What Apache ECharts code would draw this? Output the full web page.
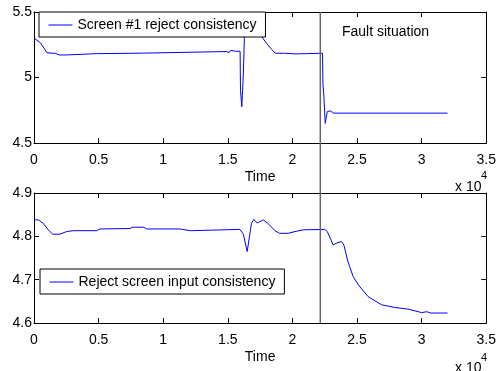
<!DOCTYPE html>
<html>
<head>
<meta charset="utf-8">
<script src="https://cdn.jsdelivr.net/npm/echarts@6/dist/echarts.min.js"></script>
<style>
  html, body { margin: 0; padding: 0; background: #fff; }
  #chart { width: 499px; height: 371px; }
</style>
</head>
<body>
<div id="chart"></div>
<script>
// time axis (shared), shown in units of 1e4
const timeTicks = [0, 5000, 10000, 15000, 20000, 25000, 30000, 35000];
const faultTime = 22120;

// upper plot: Screen #1 reject consistency
const topName = "Screen #1 reject consistency";
const topTicks = [4.5, 5, 5.5];
const topTime = [0, 500, 1000, 1400, 1650, 1750, 1950, 2500, 2550, 4850, 8400, 8500,
  14900, 15000, 15100, 15200, 15300, 15400, 15500, 15600, 15950, 15980, 16080, 16180,
  16200, 16260, 16280, 16400, 17000, 17600, 17700, 18000, 18400, 18670, 19400, 19450,
  20200, 20250, 22330, 22360, 22420, 22540, 22620, 22700, 22930, 23200, 32000];
const topValue = [5.30, 5.265, 5.19, 5.185, 5.185, 5.175, 5.172, 5.172, 5.18, 5.182, 5.186, 5.19,
  5.198, 5.205, 5.19, 5.206, 5.192, 5.204, 5.195, 5.2, 5.2, 4.9, 4.777, 4.777,
  5.02, 5.02, 5.3, 5.42, 5.44, 5.36, 5.30, 5.26, 5.215, 5.185, 5.185, 5.18,
  5.18, 5.185, 5.185, 4.95, 4.88, 4.65, 4.70, 4.74, 4.745, 4.728, 4.728];

// lower plot: Reject screen input consistency
const botName = "Reject screen input consistency";
const botTicks = [4.6, 4.7, 4.8, 4.9];
const botTime = [0, 330, 720, 1100, 1450, 2000, 2530, 3040, 4850, 5100, 7430, 7600, 8500, 8720,
  11300, 11450, 12100, 12200, 15930, 16200, 16500, 16830, 17000, 17270, 17500, 17740,
  18100, 18640, 19000, 19670, 20200, 20830, 22500, 22700, 23150, 23400, 23800, 23980,
  24300, 24700, 25100, 25850, 26900, 27900, 28950, 30000, 30400, 30700, 32000];
const botValue = [4.838, 4.838, 4.830, 4.815, 4.805, 4.805, 4.811, 4.813, 4.813, 4.817, 4.818, 4.821, 4.821, 4.817,
  4.817, 4.813, 4.813, 4.816, 4.816, 4.805, 4.765, 4.83, 4.839, 4.831, 4.834, 4.838,
  4.83, 4.813, 4.807, 4.807, 4.811, 4.815, 4.816, 4.811, 4.78, 4.784, 4.788, 4.78,
  4.741, 4.707, 4.688, 4.661, 4.642, 4.636, 4.632, 4.624, 4.626, 4.623, 4.623];

const FONT = "Liberation Sans, Arial, sans-serif";
const BLUE = "#0000ff";

const pairs = (xs, ys) => xs.map((x, i) => [x, ys[i]]);

function xAxes(gridIndex) {
  const base = {
    type: "value",
    gridIndex: gridIndex,
    min: timeTicks[0],
    max: timeTicks[timeTicks.length - 1],
    interval: timeTicks[1] - timeTicks[0],
    axisLine: { onZero: false, lineStyle: { color: "#000", width: 1 } },
    axisTick: { inside: true, length: 5, lineStyle: { color: "#000" } },
    splitLine: { show: false },
  };
  return [
    {
      ...base,
      position: "bottom",
      name: "Time",
      nameLocation: "middle",
      nameGap: 27,
      nameTextStyle: { color: "#000", fontSize: 14, fontFamily: FONT },
      axisLabel: {
        color: "#000", fontSize: 14, fontFamily: FONT, margin: 10,
        formatter: (v) => String(v / 10000),
      },
    },
    { ...base, position: "top", axisLabel: { show: false } },
  ];
}

function yAxes(gridIndex, ticks) {
  const base = {
    type: "value",
    gridIndex: gridIndex,
    min: ticks[0],
    max: ticks[ticks.length - 1],
    interval: ticks[1] - ticks[0],
    axisLine: { onZero: false, lineStyle: { color: "#000", width: 1 } },
    axisTick: { inside: true, length: 5, lineStyle: { color: "#000" } },
    splitLine: { show: false },
  };
  return [
    {
      ...base,
      position: "left",
      axisLabel: {
        color: "#000", fontSize: 14, fontFamily: FONT, margin: 2,
        formatter: (v) => String(Math.round(v * 10) / 10),
      },
    },
    { ...base, position: "right", axisLabel: { show: false } },
  ];
}

const legendBase = {
  orient: "vertical",
  backgroundColor: "#fff",
  borderColor: "#000",
  borderWidth: 1,
  borderRadius: 0,
  itemWidth: 24,
  itemHeight: 14,
  padding: [6, 9, 5, 9],
  itemStyle: { opacity: 0 },
  lineStyle: { color: BLUE, width: 1 },
  textStyle: { color: "#000", fontSize: 14, fontFamily: FONT },
};

const chart = echarts.init(document.getElementById("chart"));
chart.setOption({
  animation: false,
  backgroundColor: "#fff",
  grid: [
    { left: 34, right: 12, top: 12, height: 131 },
    { left: 34, right: 12, top: 193, height: 130 },
    { left: 34, right: 12, top: 12, bottom: 48 },
  ],
  xAxis: [
    ...xAxes(0),
    ...xAxes(1),
    { type: "value", gridIndex: 2, min: timeTicks[0], max: timeTicks[timeTicks.length - 1], show: false },
  ],
  yAxis: [
    ...yAxes(0, topTicks),
    ...yAxes(1, botTicks),
    { type: "value", gridIndex: 2, min: 0, max: 1, show: false },
  ],
  title: [
    { text: "Fault situation", left: 342, top: 25,
      textStyle: { color: "#000", fontSize: 14, fontWeight: "normal", fontFamily: FONT }, padding: 0 },
    { text: "x 10", left: 455, top: 180,
      textStyle: { color: "#000", fontSize: 14, fontWeight: "normal", fontFamily: FONT }, padding: 0 },
    { text: "4", left: 481, top: 170,
      textStyle: { color: "#000", fontSize: 11, fontWeight: "normal", fontFamily: FONT }, padding: 0 },
    { text: "x 10", left: 455, top: 361,
      textStyle: { color: "#000", fontSize: 14, fontWeight: "normal", fontFamily: FONT }, padding: 0 },
    { text: "4", left: 481, top: 352,
      textStyle: { color: "#000", fontSize: 11, fontWeight: "normal", fontFamily: FONT }, padding: 0 },
  ],
  legend: [
    { ...legendBase, data: [topName], left: 39, top: 12 },
    { ...legendBase, data: [botName], left: 40, top: 269 },
  ],
  series: [
    {
      name: topName,
      type: "line",
      xAxisIndex: 0,
      yAxisIndex: 0,
      data: pairs(topTime, topValue),
      symbol: "none",
      color: BLUE,
      lineStyle: { color: BLUE, width: 1 },
    },
    {
      name: botName,
      type: "line",
      xAxisIndex: 2,
      yAxisIndex: 2,
      data: pairs(botTime, botValue),
      symbol: "none",
      color: BLUE,
      lineStyle: { color: BLUE, width: 1 },
    },
    {
      name: "fault",
      type: "line",
      xAxisIndex: 4,
      yAxisIndex: 4,
      data: [[faultTime, 0], [faultTime, 1]],
      symbol: "none",
      silent: true,
      lineStyle: { color: "#666", width: 1.5 },
    },
  ],
});
</script>
</body>
</html>
